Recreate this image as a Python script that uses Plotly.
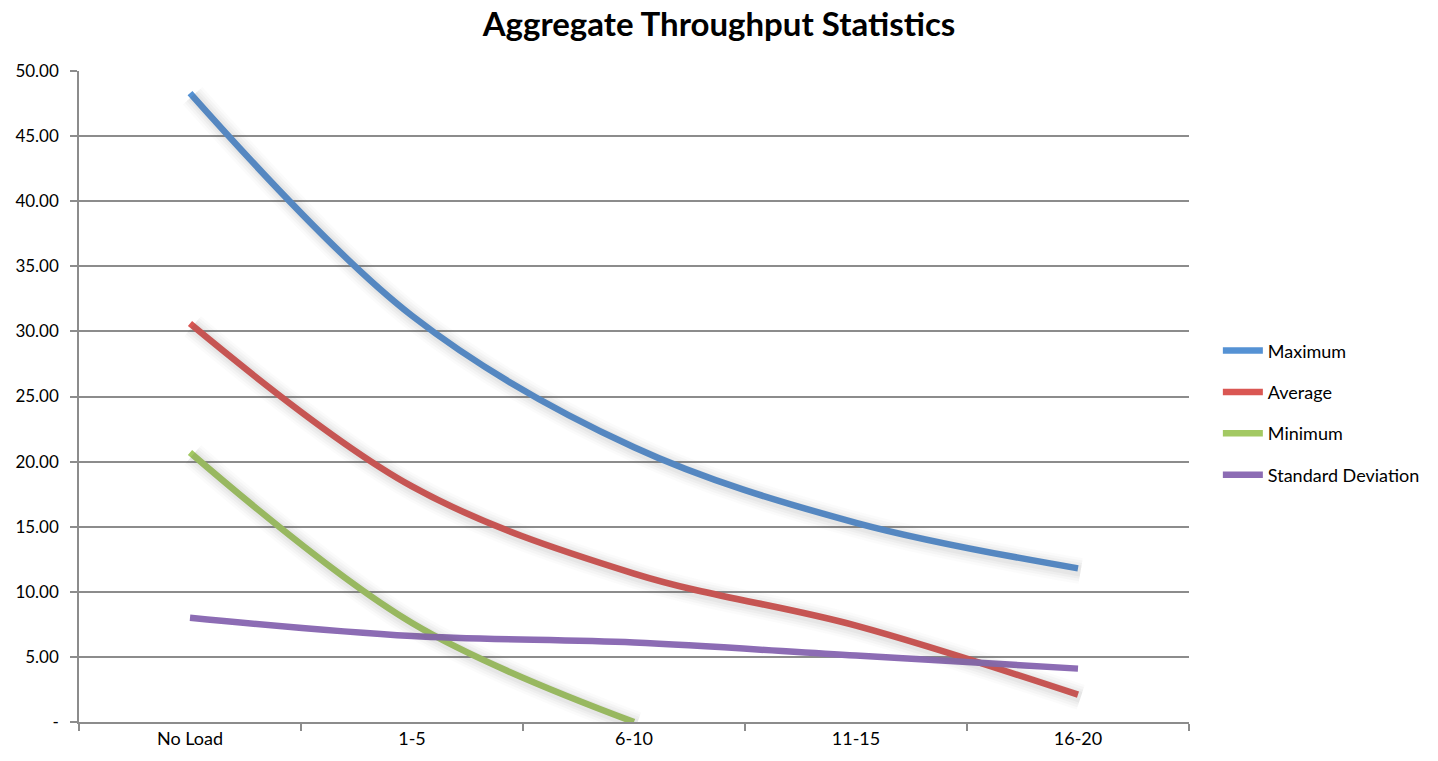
import plotly.graph_objects as go

# Load buckets along the x axis
categories = ["No Load", "1-5", "6-10", "11-15", "16-20"]

# Throughput statistics per load bucket
maximum = [48.3, 31.2, 21.1, 15.3, 11.8]
average = [30.6, 18.1, 11.4, 7.4, 2.1]
minimum = [20.7, 7.6, 0.0, None, None]
std_dev = [8.0, 6.6, 6.1, 5.1, 4.1]

# Y axis ticks
y_ticks = [0, 5, 10, 15, 20, 25, 30, 35, 40, 45, 50]
y_tick_text = ["-", "5.00", "10.00", "15.00", "20.00", "25.00",
               "30.00", "35.00", "40.00", "45.00", "50.00"]

series = [
    ("Maximum", maximum, "#5592D4", True),
    ("Average", average, "#DA5753", True),
    ("Minimum", minimum, "#A3C963", True),
    ("Standard Deviation", std_dev, "#8C6CB4", False),
]

FONT = "Lato, Calibri, Arial, sans-serif"

fig = go.Figure()

# Soft drop shadows drawn on offset overlay axes
for name, vals, color, shadow in series:
    if not shadow:
        continue
    for width, alpha in [(26, 0.025), (21, 0.035), (16, 0.045), (11, 0.05)]:
        fig.add_trace(go.Scatter(
            x=categories, y=vals, mode="lines",
            line=dict(color=f"rgba(90,90,90,{alpha})", width=width,
                      shape="spline", smoothing=1.0),
            xaxis="x2", yaxis="y2", showlegend=False, hoverinfo="skip",
        ))

for i, (name, vals, color, _) in enumerate(series):
    fig.add_trace(go.Scatter(
        x=categories, y=vals, mode="lines", name=name,
        legendgroup=f"g{i}",
        line=dict(color=color, width=6.5, shape="spline", smoothing=1.0),
    ))

grid_color = "#8c8c8c"

fig.update_layout(
    width=1438, height=761,
    margin=dict(l=79, r=249, t=71, b=37),
    paper_bgcolor="white", plot_bgcolor="white",
    title=dict(text="<b>Aggregate Throughput Statistics</b>",
               x=0.5, xanchor="center", y=0.968, yanchor="middle",
               font=dict(family=FONT, size=33, color="black")),
    font=dict(family=FONT, color="black"),
    showlegend=True,
    legend=dict(x=1.026, xanchor="left", y=0.475, yanchor="middle",
                font=dict(family=FONT, size=18, color="black"),
                tracegroupgap=15, itemwidth=40,
                bgcolor="rgba(0,0,0,0)"),
    xaxis=dict(
        type="category", categoryorder="array", categoryarray=categories,
        range=[-0.5, 4.5], tickson="boundaries",
        ticks="outside", ticklen=7, tickcolor=grid_color, tickwidth=1.5,
        showline=True, linecolor=grid_color, linewidth=1.5,
        showgrid=False, zeroline=False,
        tickfont=dict(family=FONT, size=18, color="black"),
    ),
    yaxis=dict(
        range=[0, 50], tickvals=y_ticks, ticktext=y_tick_text,
        ticks="outside", ticklen=7, tickcolor=grid_color, tickwidth=1.5,
        showline=True, linecolor=grid_color, linewidth=1.5,
        showgrid=True, gridcolor=grid_color, gridwidth=1.5,
        zeroline=False,
        tickfont=dict(family=FONT, size=17, color="black"),
        ticklabelstandoff=8,
    ),
    # Overlay axes shifted a few pixels right/down for the shadow layer
    xaxis2=dict(
        type="category", categoryorder="array", categoryarray=categories,
        range=[-0.5 - 0.012, 4.5 - 0.012], overlaying="x", visible=False,
    ),
    yaxis2=dict(range=[0 + 0.2, 50 + 0.2], overlaying="y", visible=False),
)

fig.write_html("out.html")
